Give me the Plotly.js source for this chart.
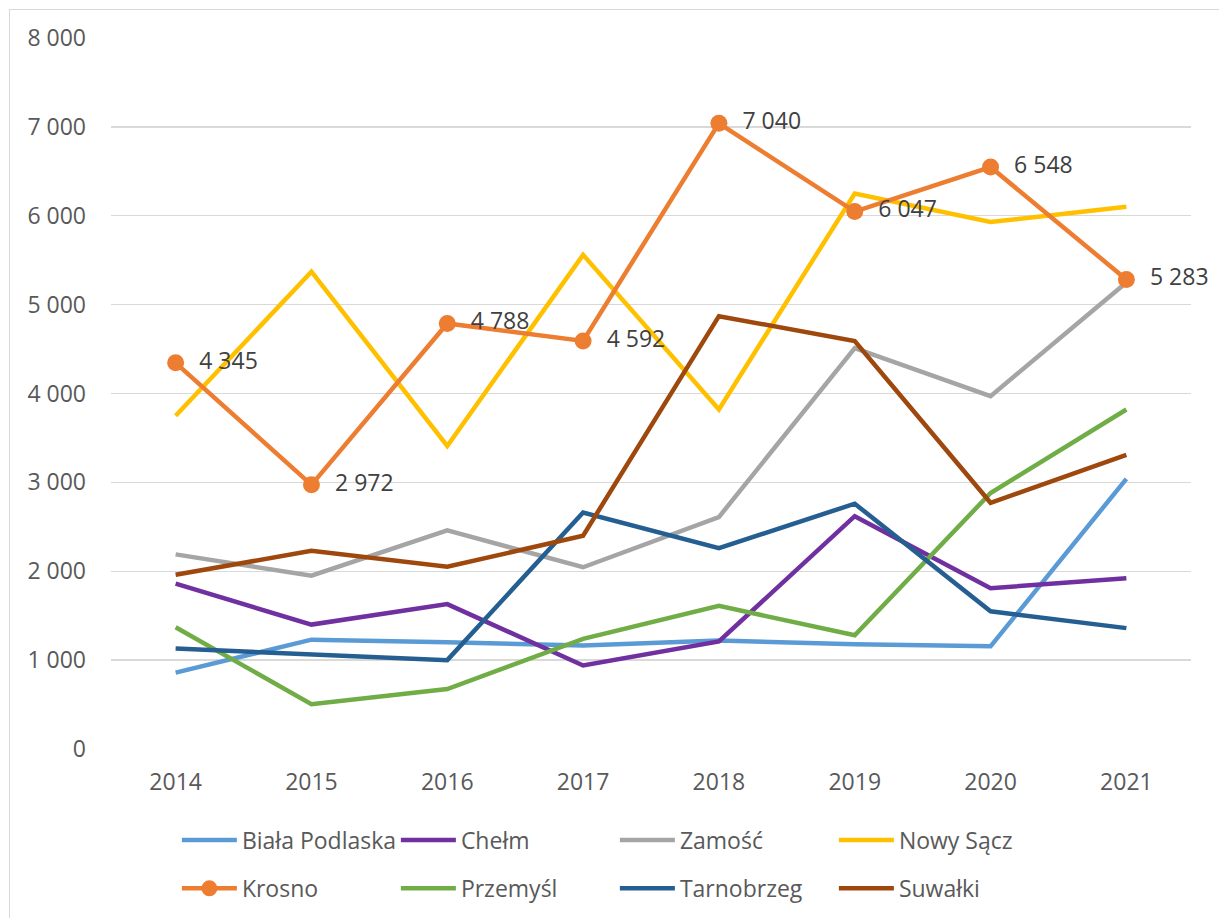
<!DOCTYPE html>
<html>
<head>
<meta charset="utf-8">
<script src="https://cdn.plot.ly/plotly-3.0.1.min.js"></script>
<style>
  html, body { margin:0; padding:0; background:#ffffff; }
  #frame { position:absolute; left:9px; top:9px; width:1210px; height:909px; border-top:1px solid #d9d9d9; border-left:1px solid #d9d9d9; }
  #chart { position:absolute; left:0; top:0; width:1219px; height:918px; }
</style>
</head>
<body>
<div id="frame"></div>
<div id="chart"></div>
<script>
const years = ['2014','2015','2016','2017','2018','2019','2020','2021'];

const bialaPodlaska = [860, 1230, 1200, 1165, 1220, 1180, 1155, 3040];
const chelm        = [1860, 1400, 1630, 940, 1210, 2620, 1810, 1920];
const zamosc       = [2190, 1950, 2460, 2045, 2610, 4510, 3970, 5250];
const nowySacz     = [3750, 5370, 3410, 5560, 3820, 6250, 5930, 6100];
const krosno       = [4345, 2972, 4788, 4592, 7040, 6047, 6548, 5283];
const przemysl     = [1370, 505, 675, 1240, 1610, 1280, 2880, 3820];
const tarnobrzeg   = [1130, 1060, 1000, 2660, 2260, 2760, 1550, 1360];
const suwalki      = [1960, 2230, 2050, 2400, 4870, 4590, 2770, 3310];

const seriesNames = ['Biała Podlaska','Chełm','Zamość','Nowy Sącz','Krosno','Przemyśl','Tarnobrzeg','Suwałki'];
const seriesValues = [bialaPodlaska, chelm, zamosc, nowySacz, krosno, przemysl, tarnobrzeg, suwalki];
const seriesColors = ['#5B9BD5','#7030A0','#A5A5A5','#FFC000','#ED7D31','#70AD47','#255E91','#9E480E'];

const FONT = 'Open Sans, sans-serif';
const FS = 23;

const traces = seriesNames.map((name, i) => {
  const isKrosno = name === 'Krosno';
  const t = {
    type: 'scatter',
    x: years,
    y: seriesValues[i],
    name: name,
    mode: isKrosno ? 'lines+markers+text' : 'lines',
    line: { color: seriesColors[i], width: 4.5 },
    legend: i < 4 ? 'legend' : 'legend2',
    cliponaxis: false,
    hoverinfo: 'skip'
  };
  if (isKrosno) {
    t.marker = { size: 17, color: seriesColors[i] };
    t.texttemplate = '  %{y:,.0f}';
    t.textposition = 'middle right';
    t.textfont = { family: FONT, size: FS, color: '#404040' };
  }
  return t;
});

const legendCommon = {
  orientation: 'h',
  xanchor: 'left',
  yanchor: 'middle',
  x: 0.061,
  entrywidth: 149,
  entrywidthmode: 'pixels',
  itemwidth: 55,
  font: { family: FONT, size: FS, color: '#595959' },
  bgcolor: 'rgba(0,0,0,0)',
  traceorder: 'normal'
};

const layout = {
  width: 1219,
  height: 918,
  margin: { l: 111, r: 28, t: 38, b: 169, autoexpand: false },
  paper_bgcolor: 'rgba(0,0,0,0)',
  plot_bgcolor: 'rgba(0,0,0,0)',
  separators: ', ',
  showlegend: true,
  font: { family: FONT, size: FS, color: '#595959' },
  xaxis: {
    type: 'category',
    showgrid: false,
    zeroline: false,
    showline: false,
    ticks: '',
    ticklabelstandoff: 17,
    tickfont: { family: FONT, size: FS, color: '#595959' }
  },
  yaxis: {
    range: [0, 8000],
    dtick: 1000,
    tick0: 0,
    tickformat: ',d',
    showgrid: true,
    gridcolor: '#d9d9d9',
    gridwidth: 1.3,
    zeroline: false,
    showline: false,
    ticks: '',
    ticklabelstandoff: 24,
    tickfont: { family: FONT, size: FS, color: '#595959' }
  },
  legend: Object.assign({}, legendCommon, { y: -0.128 }),
  legend2: Object.assign({}, legendCommon, { y: -0.196 })
};

Plotly.newPlot('chart', traces, layout, { displayModeBar: false, staticPlot: true });
</script>
</body>
</html>
